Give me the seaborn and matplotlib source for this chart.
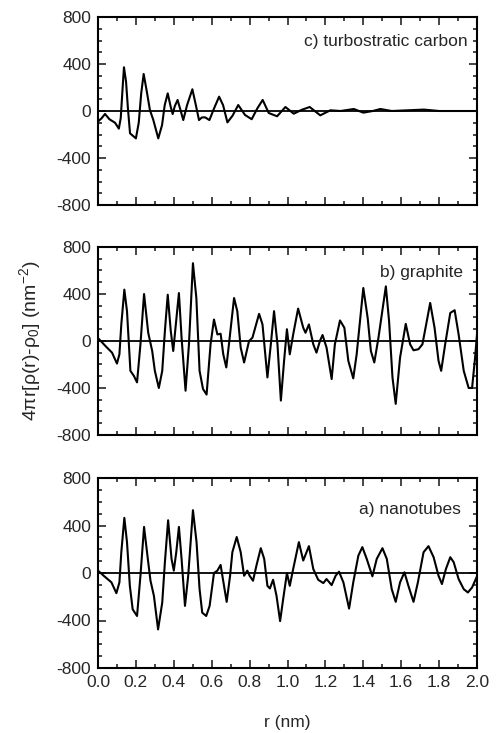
import numpy as np
import matplotlib
matplotlib.use("Agg")
import matplotlib.pyplot as plt
from matplotlib.ticker import MultipleLocator
import seaborn as sns

# ---- data ----
# c) turbostratic carbon
r_c = [0, .02, .037, .06, .09, .11, .12, .13, .137, .148, .158, .169, .2, .215, .228,
       .241, .256, .274, .292, .318, .338, .352, .368, .383, .394, .405, .42, .435, .45, .47,
       .498, .515, .533, .548, .565, .588, .612, .639, .66, .683, .71, .74, .776, .811, .84,
       .869, .901, .945, .989, 1.033, 1.075, 1.117, 1.173, 1.226, 1.28, 1.35, 1.40, 1.45, 1.49,
       1.55, 1.72, 1.8, 2.0]
g_c = [-90, -60, -25, -70, -100, -150, -60, 200, 372, 250, 20, -190, -233, -100, 150,
       315, 180, 8, -77, -233, -120, 50, 150, 40, -26, 40, 94, 10, -77, 50,
       185, 60, -77, -55, -54, -77, 20, 122, 50, -97, -40, 51, -34, -70, 20,
       94, -17, -45, 34, -23, 10, 34, -37, 6, 0, 17, -14, 0, 17,
       0, 12, 0, 0]

# b) graphite
r_b = [0, .039, .074, .1, .113, .123, .139, .153, .171, .189, .206, .224, .243, .265, .286,
       .30, .321, .339, .353, .368, .384, .397, .409, .427, .441, .462, .48, .501, .519, .536,
       .554, .573, .594, .612, .63, .647, .661, .677, .691, .718, .735, .753, .771, .797, .815,
       .832, .85, .868, .894, .912, .929, .947, .965, .982, .997, 1.012, 1.03, 1.056, 1.083,
       1.095, 1.113, 1.136, 1.153, 1.171, 1.185, 1.206, 1.233, 1.25, 1.277, 1.3, 1.321, 1.347,
       1.365, 1.4, 1.423, 1.44, 1.458, 1.48, 1.519, 1.536, 1.554, 1.571, 1.594, 1.624, 1.647,
       1.665, 1.691, 1.712, 1.735, 1.753, 1.776, 1.797, 1.811, 1.832, 1.859, 1.882, 1.903,
       1.93, 1.956, 1.974, 1.99, 2.0]
g_b = [25, -42, -99, -192, -113, 141, 437, 254, -254, -296, -352, -28, 400, 70, -85,
       -254, -400, -254, 85, 394, 85, -85, 113, 408, 28, -423, -28, 662, 366, -254,
       -408, -456, -28, 183, 56, 62, -113, -225, -28, 366, 254, -56, -183, 0, 28,
       127, 231, 141, -310, -28, 254, -28, -507, -169, 100, -113, 56, 276, 113,
       70, 141, -28, -99, 0, 51, -56, -324, -28, 175, 113, -169, -318,
       -113, 451, 197, -85, -183, 28, 465, 169, -310, -535, -141, 146, -28,
       -79, -70, -28, 169, 324, 113, -169, -254, -28, 239, 262, 56,
       -254, -400, -400, -141, 56]

# a) nanotubes
r_a = [0, .03, .071, .097, .113, .123, .139, .153, .168, .183, .206, .224, .243, .265, .277,
       .295, .317, .339, .353, .37, .388, .4, .413, .427, .441, .459, .476, .501, .52, .536,
       .55, .571, .589, .612, .63, .647, .665, .679, .697, .709, .732, .753, .771, .788, .8,
       .818, .836, .859, .877, .894, .907, .924, .942, .961, .977, .997, 1.012, 1.03, 1.06,
       1.083, 1.113, 1.136, 1.162, 1.189, 1.206, 1.233, 1.254, 1.272, 1.295, 1.325, 1.347,
       1.374, 1.395, 1.418, 1.448, 1.471, 1.501, 1.524, 1.55, 1.571, 1.594, 1.617, 1.638,
       1.665, 1.688, 1.718, 1.744, 1.771, 1.797, 1.815, 1.836, 1.859, 1.877, 1.903, 1.93,
       1.952, 1.974, 2.0]
g_a = [20, -23, -79, -170, -79, 175, 464, 260, -108, -306, -362, -23, 388, 91, -65,
       -192, -475, -249, 91, 444, 119, 20, 175, 388, 119, -277, -23, 529, 260, -136,
       -334, -362, -277, 0, 20, 68, -108, -243, -23, 175, 303, 175, -23, 20, -23,
       -65, 62, 209, 119, -108, -130, -57, -192, -405, -221, 0, -108, 34, 260,
       105, 226, 34, -57, -85, -51, -102, -23, 11, -79, -300, -79,
       147, 218, 119, -28, 119, 209, 119, -136, -243, -79, 6, -108,
       -243, -79, 175, 226, 133, -23, -93, 34, 133, 91, -51, -136,
       -164, -122, -28]

panel_labels = ["c) turbostratic carbon", "b) graphite", "a) nanotubes"]
y_ticks = [-800, -400, 0, 400, 800]
x_ticks = [0.0, 0.2, 0.4, 0.6, 0.8, 1.0, 1.2, 1.4, 1.6, 1.8, 2.0]

# ---- style ----
sns.set_style("ticks")
plt.rcParams['font.family'] = ['Liberation Sans', 'DejaVu Sans']
plt.rcParams['mathtext.fontset'] = 'custom'
plt.rcParams['mathtext.rm'] = 'Liberation Sans'
plt.rcParams['mathtext.it'] = 'Liberation Sans'
plt.rcParams['mathtext.default'] = 'regular'

W, H = 496, 733
fig = plt.figure(figsize=(W / 100, H / 100), dpi=100)

left, right = 98, 477
panels_px = [(17, 205), (247, 435), (478, 668)]
series = [(r_c, g_c), (r_b, g_b), (r_a, g_a)]
label_pos = [(0.976, 0.872), (0.962, 0.867), (0.958, 0.832)]

for i, ((top, bot), (rr, gg)) in enumerate(zip(panels_px, series)):
    ax = fig.add_axes([left / W, 1 - bot / H, (right - left) / W, (bot - top) / H])
    ax.axhline(0, color='black', lw=1.3, zorder=1)
    sns.lineplot(x=rr, y=gg, ax=ax, color='black', lw=1.5, estimator=None, sort=False,
                 zorder=2, solid_joinstyle='round')
    ax.set_xlim(0, 2.0)
    ax.set_ylim(-800, 800)
    ax.set_yticks(y_ticks)
    ax.set_yticklabels([str(v) for v in y_ticks])
    ax.set_xticks(x_ticks)
    ax.xaxis.set_minor_locator(MultipleLocator(0.1))
    ax.yaxis.set_minor_locator(MultipleLocator(100))
    ax.tick_params(which='both', direction='in', top=True, right=True, width=1.2, labelsize=12.5)
    ax.tick_params(which='major', length=6, pad=5)
    ax.tick_params(which='minor', length=3)
    for s in ax.spines.values():
        s.set_linewidth(1.5)
        s.set_color('black')
    if i < 2:
        ax.set_xticklabels([])
    else:
        ax.set_xticklabels([f"{v:.1f}" for v in x_ticks])
    ax.set_xlabel("")
    ax.set_ylabel("")
    ax.text(label_pos[i][0], label_pos[i][1], panel_labels[i], transform=ax.transAxes,
            ha='right', va='center', fontsize=12.5)

fig.text(30 / W, 1 - 341 / H, "4πr[ρ(r)-ρ$_0$] (nm$^{-2}$)",
         rotation=90, ha='center', va='center', fontsize=14)
fig.text(287 / W, 1 - 722 / H, "r (nm)", ha='center', va='center', fontsize=12.5)

fig.savefig("out.png", dpi=100)
